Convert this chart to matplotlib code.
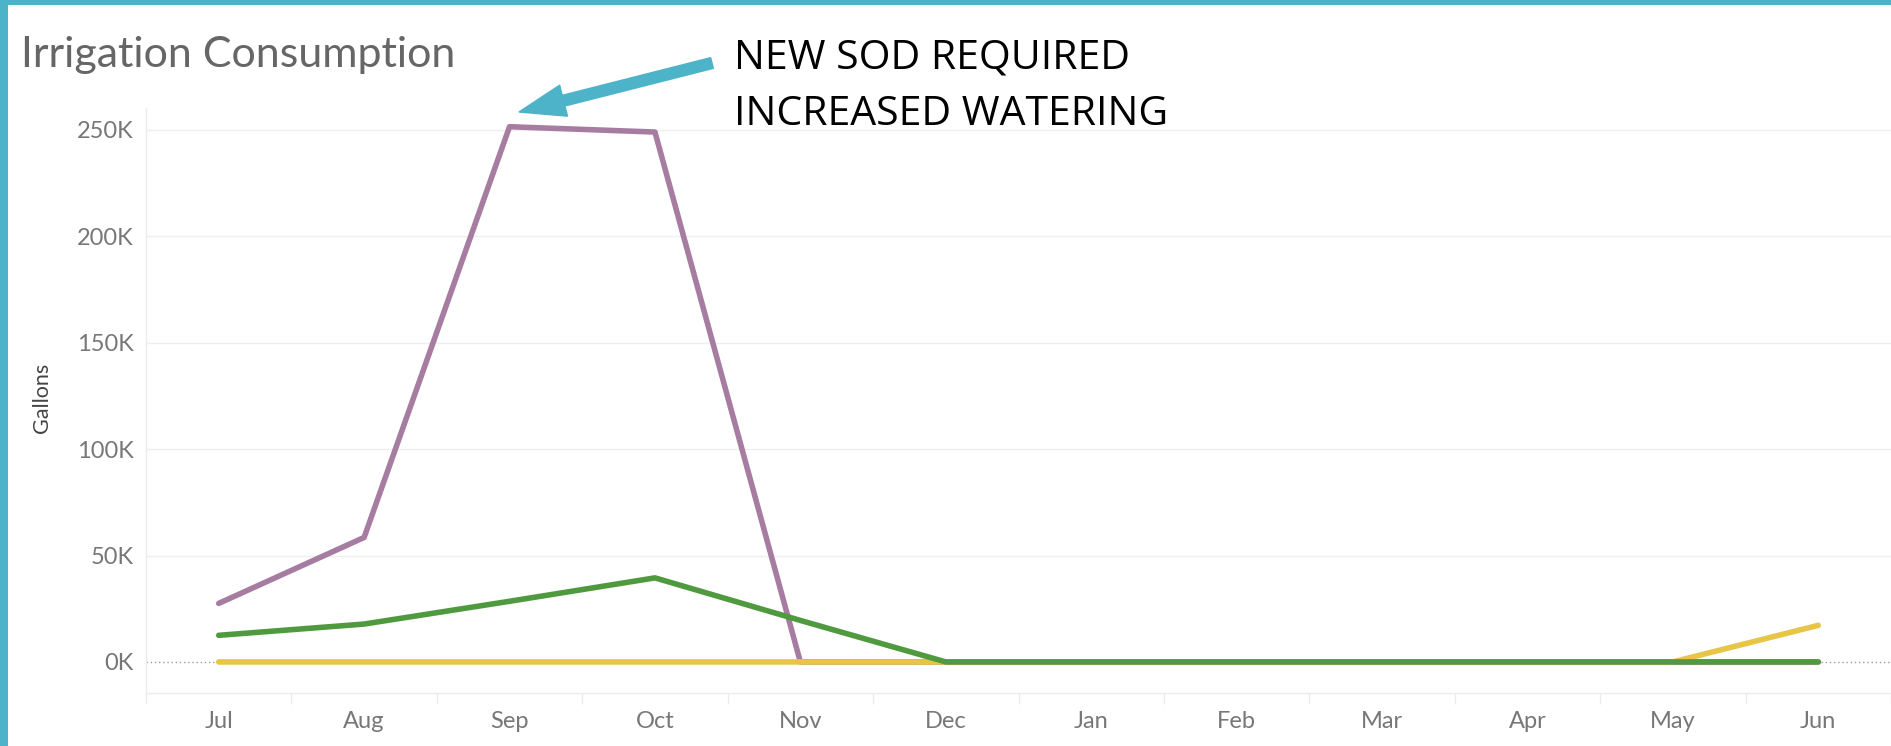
import matplotlib
matplotlib.use('Agg')
import matplotlib.pyplot as plt
from matplotlib.patches import Rectangle, FancyArrow
from matplotlib.transforms import IdentityTransform
from matplotlib.ticker import FuncFormatter
import numpy as np

# data (gallons per month)
months = ['Jul', 'Aug', 'Sep', 'Oct', 'Nov', 'Dec', 'Jan', 'Feb', 'Mar', 'Apr', 'May', 'Jun']
purple = [27500, 58500, 251500, 249000, 0, 0, 0, 0, 0, 0, 0, 0]
green = [12500, 17800, 28500, 39500, 19500, 0, 0, 0, 0, 0, 0, 0]
yellow = [0, 0, 0, 0, 0, 0, 0, 0, 0, 0, 0, 17200]
y_ticks = [0, 50000, 100000, 150000, 200000, 250000]

TEAL = '#4db3c8'
PURPLE = '#a67ca0'
GREEN = '#4f9a3e'
YELLOW = '#e8c547'

plt.rcParams['font.family'] = ['Lato', 'DejaVu Sans']

W, H = 1891, 746
fig = plt.figure(figsize=(W / 100, H / 100), dpi=100)
ax = fig.add_axes([146 / W, 53 / H, 1 - 146 / W, (693 - 108) / H])

x = np.arange(len(months))
ax.plot(x, purple, color=PURPLE, lw=4, solid_capstyle='round', zorder=3)
ax.plot(x, yellow, color=YELLOW, lw=4, solid_capstyle='round', zorder=4)
ax.plot(x, green, color=GREEN, lw=4, solid_capstyle='round', zorder=5)

ax.set_xlim(-0.5, 11.47)
ax.set_ylim(-14600, 260300)

# grid and zero line
for v in y_ticks[1:]:
    ax.axhline(v, color='#efefef', lw=1, zorder=1)
ax.axhline(0, color='#9a9a9a', lw=1, ls=(0, (1, 2)), zorder=2)

ax.set_yticks(y_ticks)
ax.yaxis.set_major_formatter(FuncFormatter(lambda v, p: f'{int(v / 1000)}K'))
ax.set_xticks(x)
ax.set_xticklabels(months)
ax.set_xticks(np.arange(-0.5, 12, 1), minor=True)
ax.tick_params(axis='both', which='major', length=0, labelsize=17, labelcolor='#777777')
ax.tick_params(axis='y', pad=9)
ax.tick_params(axis='x', pad=13)
ax.tick_params(axis='x', which='minor', length=8, width=1, color='#ececec')

for s in ['top', 'right']:
    ax.spines[s].set_visible(False)
for s in ['left', 'bottom']:
    ax.spines[s].set_color('#ececec')
    ax.spines[s].set_linewidth(1)

fig.text(21 / W, 1 - 55 / H, 'Irrigation Consumption', fontsize=31, color='#666666',
         ha='left', va='center')
fig.text(42 / W, 1 - 398 / H, 'Gallons', fontsize=15.5, color='#444444',
         rotation=90, ha='center', va='center')

# annotation
note_font = ['Open Sans', 'DejaVu Sans']
fig.text(734 / W, 1 - 58 / H, 'NEW SOD REQUIRED', fontsize=29.5, family=note_font,
         color='black', ha='left', va='center')
fig.text(734 / W, 1 - 115 / H, 'INCREASED WATERING', fontsize=29.5, family=note_font,
         color='black', ha='left', va='center')
tail = (712, H - 63)
tip = (519, H - 112)
fig.add_artist(FancyArrow(tail[0], tail[1], tip[0] - tail[0], tip[1] - tail[1],
                          width=11, head_width=32, head_length=46,
                          length_includes_head=True, color=TEAL,
                          transform=IdentityTransform()))

# teal frame (left and top)
fig.add_artist(Rectangle((0, 0), 8 / W, 1, transform=fig.transFigure, color=TEAL, lw=0))
fig.add_artist(Rectangle((0, 1 - 5 / H), 1, 5 / H, transform=fig.transFigure, color=TEAL, lw=0))

fig.savefig('out.png', dpi=100)
plt.close(fig)
